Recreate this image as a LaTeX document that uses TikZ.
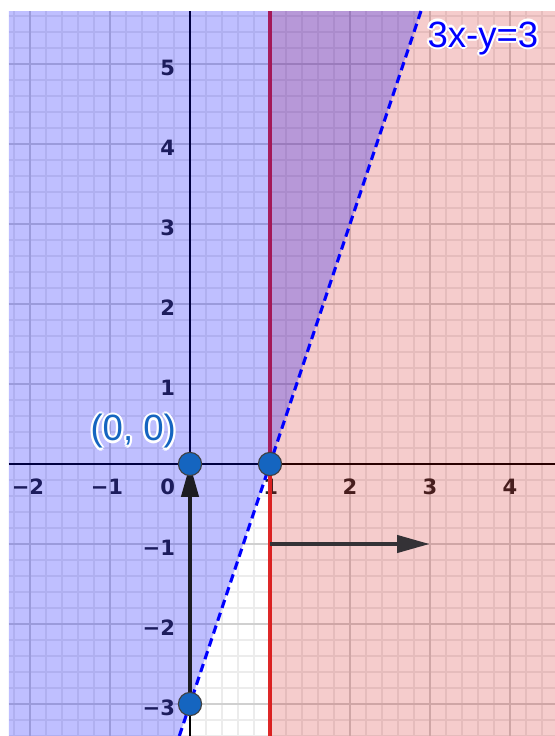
\documentclass[tikz,border=0pt]{standalone}
\usepackage{fontspec}
\setmainfont{Liberation Sans}
\newfontfamily\tickfont{DejaVu Sans}
\usetikzlibrary{arrows.meta}
\definecolor{ggblue}{RGB}{0,0,255}
\definecolor{ggred}{RGB}{205,0,0}
\definecolor{redline}{RGB}{222,40,40}
\definecolor{ptblue}{RGB}{21,101,192}
\definecolor{minorgrid}{RGB}{236,236,236}
\definecolor{majorgrid}{RGB}{208,208,208}
\definecolor{vecgray}{RGB}{52,50,54}
\definecolor{vecdark}{RGB}{28,28,34}
\newcommand\halotxt[2]{{\setbox0\hbox{#2}%
\rlap{\textcolor{white}{\kern0.8pt\copy0}}%
\rlap{\textcolor{white}{\kern-0.8pt\copy0}}%
\rlap{\textcolor{white}{\raise0.8pt\copy0}}%
\rlap{\textcolor{white}{\lower0.8pt\copy0}}%
\rlap{\textcolor{white}{\kern0.57pt\raise0.57pt\copy0}}%
\rlap{\textcolor{white}{\kern-0.57pt\raise0.57pt\copy0}}%
\rlap{\textcolor{white}{\kern0.57pt\lower0.57pt\copy0}}%
\rlap{\textcolor{white}{\kern-0.57pt\lower0.57pt\copy0}}%
\textcolor{#1}{\copy0}}}
\tikzset{
  minorline/.style={draw=minorgrid, line width=0.4pt},
  majorline/.style={draw=majorgrid, line width=0.6pt},
  axisline/.style={draw=black, line width=1pt},
  tick/.style={inner sep=0pt, text=black!85, font=\tickfont\bfseries\fontsize{7.5}{9}\selectfont},
  ytick/.style={tick, anchor=east},
  xtick/.style={tick, anchor=center},
  redbound/.style={draw=redline, line width=1.1pt},
  pinkregion/.style={fill=ggred, fill opacity=0.2},
  blueregion/.style={fill=ggblue, fill opacity=0.25},
  dashline/.style={draw=ggblue, line width=1.1pt, dash pattern=on 3pt off 1.8pt},
  vecarrow/.style={draw=vecgray, line width=1.6pt,
     -{Triangle[length=0.41cm,width=0.21cm]}},
  pt/.style={circle, fill=ptblue, draw=black!75, line width=0.4pt, minimum size=0.29cm, inner sep=0pt},
  biglabel/.style={inner sep=0pt, anchor=base west, font=\fontsize{13}{15}\selectfont}
}
\begin{document}
\begin{tikzpicture}
\def\xl{-2.2625}\def\xr{4.5625}\def\yb{-3.4}\def\yt{5.6625}
\useasboundingbox (-2.375,-3.4) rectangle (4.5625,5.8);
\fill[white] (-2.375,-3.4) rectangle (4.5625,5.8);
% grid
\draw[minorline, step=0.2] (\xl,\yb) grid (\xr,\yt);
\draw[majorline, step=1] (\xl,\yb) grid (\xr,\yt);
% tick labels
\foreach \v/\t in {5/5,4/4,3/3,2/2,1/1,-1/−1,-2/−2,-3/−3}
  \node[ytick] (y\v) at (-0.18,\v-0.05) {\t};
\node[xtick] (xm2) at (-2.025,-0.2875) {−2};
\node[xtick] (xm1) at (-1.0375,-0.2875) {−1};
\node[tick, anchor=east] (x0) at (-0.18,-0.2875) {0};
\node[xtick] (x1) at (1.01,-0.2875) {1};
\node[xtick] (x2) at (2,-0.2875) {2};
\node[xtick] (x3) at (3,-0.2875) {3};
\node[xtick] (x4) at (4,-0.2875) {4};
% axes
\coordinate (xa1) at (\xl,0); \coordinate (xa2) at (\xr,0);
\coordinate (ya1) at (0,\yb); \coordinate (ya2) at (0,\yt);
\draw[axisline] (xa1) -- (xa2);
\draw[axisline] (ya1) -- (ya2);
% boundary x = 1
\coordinate (r1) at (1,\yb); \coordinate (r2) at (1,\yt);
\draw[redbound] (r1) -- (r2);
% regions
\path[pinkregion] (1,\yb) rectangle (\xr,\yt);
\path[blueregion] (\xl,\yt) -- (2.8875,\yt) -- (-0.13333,\yb) -- (\xl,\yb) -- cycle;
% dashed line 3x - y = 3
\coordinate (l1) at (-0.13333,\yb); \coordinate (l2) at (2.8875,\yt);
\draw[dashline] (l1) -- (l2);
% vectors and points
\coordinate (h1) at (1,-1); \coordinate (h2) at (3,-1);
\coordinate (c0) at (0,0); \coordinate (c3) at (0,-3);
\draw[vecarrow, draw=vecdark] (c3) -- (c0);
\draw[vecarrow] (h1) -- (h2);
\node[pt] (O) at (c0) {};
\node[pt] (A) at (1,0) {};
\node[pt] (B) at (c3) {};
% labels
\node[biglabel] (lblO) at (-1.25,0.29) {\halotxt{ptblue}{(0, 0)}};
\node[biglabel] (lblL) at (2.9625,5.2125) {\halotxt{ggblue}{3x-y=3}};
\end{tikzpicture}
\end{document}
